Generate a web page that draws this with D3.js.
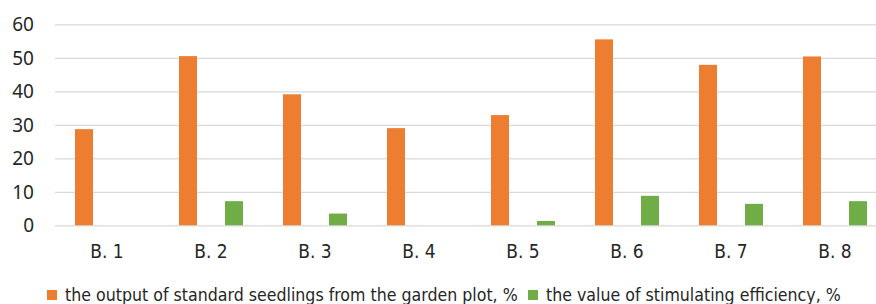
<!DOCTYPE html>
<html lang="en">
<head>
<meta charset="UTF-8">
<title>Seedlings chart</title>
<script src="https://cdn.jsdelivr.net/npm/d3@7/dist/d3.min.js"></script>
<style>
    body { margin: 0; background: #fff; }
    svg { display: block; }
    text { font-family: "DejaVu Sans Condensed", sans-serif; fill: #262626; }
</style>
</head>
<body>
<svg id="chart" width="876" height="304"></svg>
<script>
// chart data
const categories = ['B. 1', 'B. 2', 'B. 3', 'B. 4', 'B. 5', 'B. 6', 'B. 7', 'B. 8'];
const seedlingOutput = [28.7, 50.5, 39.1, 29.0, 32.9, 55.5, 47.9, 50.4];
const stimulatingEfficiency = [0, 7.2, 3.5, 0, 1.3, 8.8, 6.4, 7.2];
const yTicks = [0, 10, 20, 30, 40, 50, 60];
const seriesNames = [
    'the output of standard seedlings from the garden plot, %',
    'the value of stimulating efficiency, %'
];
const seriesColors = ['#ED7D31', '#70AD47'];

const svg = d3.select('#chart');

const plot = { left: 55, right: 887, top: 24.3, bottom: 225.3 };

const x0 = d3.scaleBand()
    .domain(categories)
    .range([plot.left, plot.right])
    .padding(0);

const x1 = d3.scaleBand()
    .domain([0, 1])
    .range([0, x0.bandwidth()])
    .paddingInner(0.609)
    .paddingOuter(0.435);

const y = d3.scaleLinear()
    .domain([0, 60])
    .range([plot.bottom, plot.top]);

// gridlines
const yAxis = svg.append('g')
    .attr('transform', `translate(${plot.left},0)`)
    .call(d3.axisLeft(y).tickValues(yTicks).tickSize(-(plot.right - plot.left)).tickPadding(20));
yAxis.select('.domain').remove();
yAxis.selectAll('.tick line').attr('stroke', '#d9d9d9').attr('stroke-width', 1.3);
yAxis.selectAll('.tick text')
    .attr('font-size', 19)
    .attr('x', -21)
    .attr('dy', '0.35em')
    .style('font-family', '"Noto Sans", sans-serif')
    .attr('fill', '#262626');

// bars
const rows = categories.map((c, i) => ({ cat: c, vals: [seedlingOutput[i], stimulatingEfficiency[i]] }));

const groups = svg.append('g').selectAll('g')
    .data(rows)
    .join('g')
    .attr('transform', d => `translate(${x0(d.cat)},0)`);

groups.selectAll('rect')
    .data(d => d.vals.map((v, k) => ({ k, v })))
    .join('rect')
    .attr('x', d => x1(d.k))
    .attr('width', x1.bandwidth())
    .attr('y', d => y(d.v))
    .attr('height', d => y(0) - y(d.v))
    .attr('fill', d => seriesColors[d.k]);

// category labels
const xAxis = svg.append('g')
    .attr('transform', `translate(0,${plot.bottom})`)
    .call(d3.axisBottom(x0).tickSize(0).tickPadding(19));
xAxis.select('.domain').remove();
xAxis.selectAll('.tick text')
    .attr('font-size', 19)
    .attr('fill', '#262626');

// legend
const legend = svg.append('g').attr('transform', 'translate(47,290)');
const legendX = [0, 481];
seriesNames.forEach((name, k) => {
    const item = legend.append('g').attr('transform', `translate(${legendX[k]},0)`);
    item.append('rect')
        .attr('width', 10).attr('height', 10)
        .attr('fill', seriesColors[k]);
    item.append('text')
        .attr('x', 18)
        .attr('y', 5)
        .attr('dy', '0.35em')
        .attr('font-size', 17.6)
        .text(name);
});
</script>
</body>
</html>
